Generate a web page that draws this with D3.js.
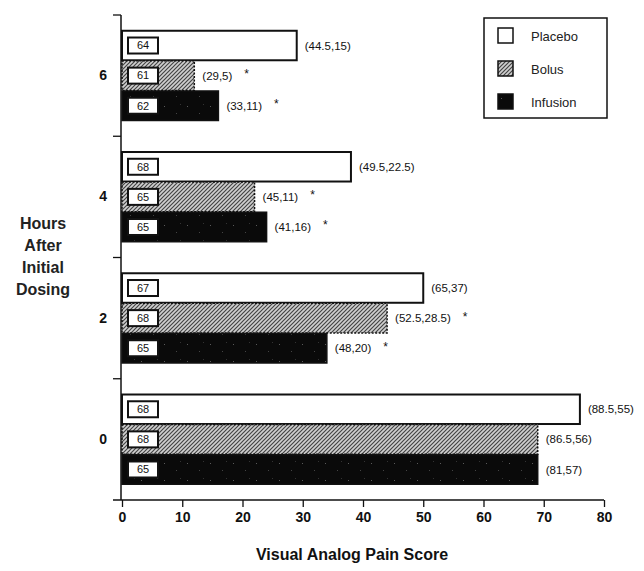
<!DOCTYPE html>
<html>
<head>
<meta charset="utf-8">
<script src="https://cdn.jsdelivr.net/npm/d3@7/dist/d3.min.js"></script>
<style>
  html, body { margin: 0; padding: 0; background: #fff; }
  svg { display: block; }
  text { font-family: "Liberation Sans", Arial, Helvetica, sans-serif; }
</style>
</head>
<body>
<svg id="chart" width="644" height="571"></svg>
<script>
// ---- Data ----
const hours = ["6", "4", "2", "0"];
const treatments = ["Placebo", "Bolus", "Infusion"];
const placeboValues = [29, 38, 50, 76];
const bolusValues = [12, 22, 44, 69];
const infusionValues = [16, 24, 34, 69];
const placeboN = [64, 68, 67, 68];
const bolusN = [61, 65, 68, 68];
const infusionN = [62, 65, 65, 65];
const placeboLabels = ["(44.5,15)", "(49.5,22.5)", "(65,37)", "(88.5,55)"];
const bolusLabels = ["(29,5)", "(45,11)", "(52.5,28.5)", "(86.5,56)"];
const infusionLabels = ["(33,11)", "(41,16)", "(48,20)", "(81,57)"];
const placeboStar = [false, false, false, false];
const bolusStar = [true, true, true, false];
const infusionStar = [true, true, true, false];
const xTicks = [0, 10, 20, 30, 40, 50, 60, 70, 80];

const seriesValues = [placeboValues, bolusValues, infusionValues];
const seriesN = [placeboN, bolusN, infusionN];
const seriesLabels = [placeboLabels, bolusLabels, infusionLabels];
const seriesStar = [placeboStar, bolusStar, infusionStar];

const rows = [];
hours.forEach((h, gi) => {
  treatments.forEach((t, si) => {
    rows.push({
      hour: h, treatment: t,
      value: seriesValues[si][gi],
      n: seriesN[si][gi],
      label: seriesLabels[si][gi],
      star: seriesStar[si][gi]
    });
  });
});

// ---- Layout ----
const svg = d3.select("#chart");
const x0 = 122, x1 = 604, yTop = 15, yBot = 500;

const x = d3.scaleLinear().domain([0, 80]).range([x0, x1]);
const y = d3.scaleBand().domain(hours).range([yTop, yBot]).paddingInner(0.25).paddingOuter(0.125);
const ySub = d3.scaleBand().domain(treatments).range([0, y.bandwidth()]).padding(0.02);

// ---- Patterns ----
const defs = svg.append("defs");
const hatch = defs.append("pattern")
  .attr("id", "hatch").attr("patternUnits", "userSpaceOnUse")
  .attr("width", 4).attr("height", 4);
hatch.append("rect").attr("width", 4).attr("height", 4).attr("fill", "#d0d0d0");
hatch.append("path").attr("d", "M-1,1 l2,-2 M0,4 l4,-4 M3,5 l2,-2")
  .attr("stroke", "#444").attr("stroke-width", 1.2);

const speck = defs.append("pattern")
  .attr("id", "speck").attr("patternUnits", "userSpaceOnUse")
  .attr("width", 23).attr("height", 17);
speck.append("rect").attr("width", 23).attr("height", 17).attr("fill", "#0a0a0a");
speck.append("rect").attr("x", 3).attr("y", 4).attr("width", 1).attr("height", 1).attr("fill", "#5a5a5a");
speck.append("rect").attr("x", 15).attr("y", 11).attr("width", 1).attr("height", 1).attr("fill", "#444");
speck.append("rect").attr("x", 19).attr("y", 2).attr("width", 1).attr("height", 1).attr("fill", "#333");

const fills = { Placebo: "#fff", Bolus: "url(#hatch)", Infusion: "url(#speck)" };

// ---- Bars ----
const g = svg.append("g");
const barG = g.selectAll("g.bar").data(rows).enter().append("g").attr("class", "bar");

barG.append("rect")
  .attr("x", x(0))
  .attr("y", d => y(d.hour) + ySub(d.treatment))
  .attr("width", d => x(d.value) - x(0))
  .attr("height", ySub.bandwidth())
  .attr("fill", d => fills[d.treatment])
  .attr("stroke", "#111")
  .attr("stroke-width", d => d.treatment === "Placebo" ? 2 : 1.5)
  .attr("stroke-dasharray", d => d.treatment === "Bolus" ? "2,1.5" : null);

// n boxes
barG.append("rect")
  .attr("x", x(0) + 6)
  .attr("y", d => y(d.hour) + ySub(d.treatment) + ySub.bandwidth() / 2 - 8)
  .attr("width", 30).attr("height", 16)
  .attr("fill", "#fff").attr("stroke", "#111").attr("stroke-width", 2);

barG.append("text")
  .attr("x", x(0) + 21)
  .attr("y", d => y(d.hour) + ySub(d.treatment) + ySub.bandwidth() / 2)
  .attr("dy", "0.35em").attr("text-anchor", "middle")
  .attr("font-size", 11).attr("fill", "#111")
  .text(d => d.n);

// right labels
barG.append("text")
  .attr("class", "vlab")
  .attr("x", d => x(d.value) + 8)
  .attr("y", d => y(d.hour) + ySub(d.treatment) + ySub.bandwidth() / 2)
  .attr("dy", "0.35em").attr("font-size", 11.5).attr("fill", "#111")
  .text(d => d.label);

barG.filter(d => d.star).each(function(d) {
  const t = d3.select(this).select("text.vlab").node();
  const w = t.getComputedTextLength();
  d3.select(this).append("text")
    .attr("x", x(d.value) + 8 + w + 12)
    .attr("y", y(d.hour) + ySub(d.treatment) + ySub.bandwidth() / 2)
    .attr("dy", "0.2em").attr("font-size", 12).attr("fill", "#111")
    .text("*");
});

// ---- X axis ----
const xAxisG = svg.append("g").attr("transform", `translate(0,${yBot})`);
xAxisG.call(d3.axisBottom(x).tickValues(d3.range(0, 81, 2)).tickSize(4).tickFormat(""));
xAxisG.call(d3.axisBottom(x).tickValues(xTicks).tickSize(7).tickPadding(5).tickFormat(d3.format("d")));
xAxisG.select(".domain").remove();
xAxisG.append("line").attr("x1", x0 - 9).attr("x2", x1).attr("y1", 0).attr("y2", 0)
  .attr("stroke", "#111").attr("stroke-width", 1.5);
xAxisG.selectAll("line").attr("stroke", "#111").attr("stroke-width", 1.3);
xAxisG.selectAll("text").attr("font-size", 14).attr("font-weight", "bold").attr("fill", "#111");

// ---- Y axis ----
const yAxisG = svg.append("g").attr("transform", `translate(${x0 - 1},0)`);
yAxisG.call(d3.axisLeft(y).tickSize(0).tickPadding(14));
yAxisG.select(".domain").remove();
yAxisG.selectAll("text").attr("font-size", 14).attr("font-weight", "bold").attr("fill", "#111");
yAxisG.append("line").attr("x1", 0).attr("x2", 0).attr("y1", yTop).attr("y2", yBot)
  .attr("stroke", "#111").attr("stroke-width", 1.5);
const boundaries = hours.map(h => y(h) - y.step() * y.paddingInner() / 2);
yAxisG.selectAll("line.bt").data(boundaries).enter().append("line")
  .attr("class", "bt").attr("x1", -8).attr("x2", 0)
  .attr("y1", d => d).attr("y2", d => d)
  .attr("stroke", "#111").attr("stroke-width", 1.3);

// ---- Axis titles ----
svg.append("text").attr("x", 352).attr("y", 560).attr("text-anchor", "middle")
  .attr("font-size", 16).attr("font-weight", "bold").attr("fill", "#111")
  .text("Visual Analog Pain Score");

const yTitle = ["Hours", "After", "Initial", "Dosing"];
svg.append("g").selectAll("text").data(yTitle).enter().append("text")
  .attr("x", 43).attr("y", (d, i) => 229 + i * 22).attr("text-anchor", "middle")
  .attr("font-size", 16).attr("font-weight", "bold").attr("fill", "#222")
  .text(d => d);

// ---- Legend ----
const leg = svg.append("g").attr("transform", "translate(484,18)");
leg.append("rect").attr("width", 123).attr("height", 100)
  .attr("fill", "#fff").attr("stroke", "#111").attr("stroke-width", 1.5);
const li = leg.selectAll("g.li").data(treatments).enter().append("g")
  .attr("transform", (d, i) => `translate(14,${10 + i * 33})`);
li.append("rect").attr("width", 15).attr("height", 15)
  .attr("fill", d => fills[d]).attr("stroke", "#111").attr("stroke-width", 1.5);
li.append("text").attr("x", 33).attr("y", 8).attr("dy", "0.35em")
  .attr("font-size", 13).attr("fill", "#222").text(d => d);
</script>
</body>
</html>
